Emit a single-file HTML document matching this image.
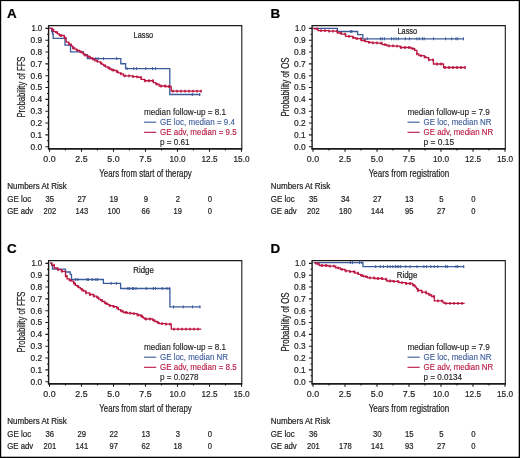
<!DOCTYPE html>
<html><head><meta charset="utf-8"><title>Kaplan-Meier curves</title>
<style>html,body{margin:0;padding:0;background:#fff;} svg{display:block;will-change:transform;filter:blur(0.3px);}</style>
</head><body>
<svg width="520" height="458" viewBox="0 0 520 458" font-family='"Liberation Sans", sans-serif'>
<rect x="0" y="0" width="520" height="458" fill="#fff"/>
<g transform="translate(0,0)">
<text x="7" y="17.9" font-size="13.4" text-anchor="start" fill="#000" font-weight="bold" stroke="#000" stroke-width="0.2">A</text>
<path d="M48.6 25.6 H241.8 V148.8" fill="none" stroke="#1a1a1a" stroke-width="1.1"/>
<path d="M48.6 25.1 V148.8" fill="none" stroke="#1a1a1a" stroke-width="1.4"/>
<path d="M47.9 148.8 H242.35" fill="none" stroke="#1a1a1a" stroke-width="1.7"/>
<path d="M45.4 146.7H48.6 M47 140.78H48.6 M45.4 134.87H48.6 M47 128.95H48.6 M45.4 123.04H48.6 M47 117.12H48.6 M45.4 111.21H48.6 M47 105.29H48.6 M45.4 99.38H48.6 M47 93.47H48.6 M45.4 87.55H48.6 M47 81.63H48.6 M45.4 75.72H48.6 M47 69.8H48.6 M45.4 63.89H48.6 M47 57.97H48.6 M45.4 52.06H48.6 M47 46.14H48.6 M45.4 40.23H48.6 M47 34.31H48.6 M45.4 28.4H48.6 M49.5 148.8V151.8 M65.5 148.8V150.4 M81.5 148.8V151.8 M97.5 148.8V150.4 M113.5 148.8V151.8 M129.5 148.8V150.4 M145.5 148.8V151.8 M161.5 148.8V150.4 M177.5 148.8V151.8 M193.5 148.8V150.4 M209.5 148.8V151.8 M225.5 148.8V150.4 M241.5 148.8V151.8" stroke="#1a1a1a" stroke-width="1.1" fill="none"/>
<text x="42.2" y="149.5" font-size="8.9" text-anchor="end" fill="#231f20" font-weight="normal" textLength="11.6" lengthAdjust="spacingAndGlyphs" stroke="#231f20" stroke-width="0.22">0.0</text>
<text x="42.2" y="137.67" font-size="8.9" text-anchor="end" fill="#231f20" font-weight="normal" textLength="11.6" lengthAdjust="spacingAndGlyphs" stroke="#231f20" stroke-width="0.22">0.1</text>
<text x="42.2" y="125.84" font-size="8.9" text-anchor="end" fill="#231f20" font-weight="normal" textLength="11.6" lengthAdjust="spacingAndGlyphs" stroke="#231f20" stroke-width="0.22">0.2</text>
<text x="42.2" y="114.01" font-size="8.9" text-anchor="end" fill="#231f20" font-weight="normal" textLength="11.6" lengthAdjust="spacingAndGlyphs" stroke="#231f20" stroke-width="0.22">0.3</text>
<text x="42.2" y="102.18" font-size="8.9" text-anchor="end" fill="#231f20" font-weight="normal" textLength="11.6" lengthAdjust="spacingAndGlyphs" stroke="#231f20" stroke-width="0.22">0.4</text>
<text x="42.2" y="90.35" font-size="8.9" text-anchor="end" fill="#231f20" font-weight="normal" textLength="11.6" lengthAdjust="spacingAndGlyphs" stroke="#231f20" stroke-width="0.22">0.5</text>
<text x="42.2" y="78.52" font-size="8.9" text-anchor="end" fill="#231f20" font-weight="normal" textLength="11.6" lengthAdjust="spacingAndGlyphs" stroke="#231f20" stroke-width="0.22">0.6</text>
<text x="42.2" y="66.69" font-size="8.9" text-anchor="end" fill="#231f20" font-weight="normal" textLength="11.6" lengthAdjust="spacingAndGlyphs" stroke="#231f20" stroke-width="0.22">0.7</text>
<text x="42.2" y="54.86" font-size="8.9" text-anchor="end" fill="#231f20" font-weight="normal" textLength="11.6" lengthAdjust="spacingAndGlyphs" stroke="#231f20" stroke-width="0.22">0.8</text>
<text x="42.2" y="43.03" font-size="8.9" text-anchor="end" fill="#231f20" font-weight="normal" textLength="11.6" lengthAdjust="spacingAndGlyphs" stroke="#231f20" stroke-width="0.22">0.9</text>
<text x="42.2" y="31.2" font-size="8.9" text-anchor="end" fill="#231f20" font-weight="normal" textLength="10.8" lengthAdjust="spacingAndGlyphs" stroke="#231f20" stroke-width="0.22">1.0</text>
<text transform="translate(25.1,87.0) rotate(-90)" x="0" y="0" font-size="10.3" text-anchor="middle" fill="#231f20" stroke="#231f20" stroke-width="0.25" textLength="61" lengthAdjust="spacingAndGlyphs">Probability of FFS</text>
<text x="49.5" y="162.4" font-size="9.1" text-anchor="middle" fill="#231f20" font-weight="normal" textLength="12.3" lengthAdjust="spacingAndGlyphs" stroke="#231f20" stroke-width="0.22">0.0</text>
<text x="81.5" y="162.4" font-size="9.1" text-anchor="middle" fill="#231f20" font-weight="normal" textLength="12.3" lengthAdjust="spacingAndGlyphs" stroke="#231f20" stroke-width="0.22">2.5</text>
<text x="113.5" y="162.4" font-size="9.1" text-anchor="middle" fill="#231f20" font-weight="normal" textLength="12.3" lengthAdjust="spacingAndGlyphs" stroke="#231f20" stroke-width="0.22">5.0</text>
<text x="145.5" y="162.4" font-size="9.1" text-anchor="middle" fill="#231f20" font-weight="normal" textLength="12.3" lengthAdjust="spacingAndGlyphs" stroke="#231f20" stroke-width="0.22">7.5</text>
<text x="177.5" y="162.4" font-size="9.1" text-anchor="middle" fill="#231f20" font-weight="normal" textLength="16" lengthAdjust="spacingAndGlyphs" stroke="#231f20" stroke-width="0.22">10.0</text>
<text x="209.5" y="162.4" font-size="9.1" text-anchor="middle" fill="#231f20" font-weight="normal" textLength="16" lengthAdjust="spacingAndGlyphs" stroke="#231f20" stroke-width="0.22">12.5</text>
<text x="241.5" y="162.4" font-size="9.1" text-anchor="middle" fill="#231f20" font-weight="normal" textLength="16" lengthAdjust="spacingAndGlyphs" stroke="#231f20" stroke-width="0.22">15.0</text>
<text x="145.5" y="176.6" font-size="10.8" text-anchor="middle" fill="#231f20" font-weight="normal" textLength="92.5" lengthAdjust="spacingAndGlyphs" stroke="#231f20" stroke-width="0.22">Years from start of therapy</text>
<text x="133.6" y="37.8" font-size="8.6" text-anchor="start" fill="#231f20" font-weight="normal" textLength="19.6" lengthAdjust="spacingAndGlyphs" stroke="#231f20" stroke-width="0.22">Lasso</text>
<text x="144" y="115" font-size="8.8" text-anchor="start" fill="#231f20" font-weight="normal" textLength="82" lengthAdjust="spacingAndGlyphs" stroke="#231f20" stroke-width="0.15">median follow-up = 8.1</text>
<path d="M144 122.2H156.2" stroke="#3b5b9a" stroke-width="1.1"/>
<text x="160" y="125.1" font-size="8.8" text-anchor="start" fill="#3b5b9a" font-weight="normal" textLength="75" lengthAdjust="spacingAndGlyphs" stroke="#3b5b9a" stroke-width="0.12">GE loc, median = 9.4</text>
<path d="M144 132.3H156.2" stroke="#ba1440" stroke-width="1.1"/>
<text x="160" y="135.2" font-size="8.8" text-anchor="start" fill="#ba1440" font-weight="normal" textLength="76.6" lengthAdjust="spacingAndGlyphs" stroke="#ba1440" stroke-width="0.12">GE adv, median = 9.5</text>
<text x="160" y="145.2" font-size="8.8" text-anchor="start" fill="#231f20" font-weight="normal" textLength="29.6" lengthAdjust="spacingAndGlyphs" stroke="#231f20" stroke-width="0.15">p = 0.61</text>
<text x="7.3" y="189.4" font-size="8.7" text-anchor="start" fill="#231f20" font-weight="normal" textLength="59.5" lengthAdjust="spacingAndGlyphs" stroke="#231f20" stroke-width="0.22">Numbers At Risk</text>
<text x="7.3" y="201.9" font-size="8.7" text-anchor="start" fill="#231f20" font-weight="normal" textLength="23.9" lengthAdjust="spacingAndGlyphs" stroke="#231f20" stroke-width="0.22">GE loc</text>
<text x="7.3" y="214" font-size="8.7" text-anchor="start" fill="#231f20" font-weight="normal" textLength="25.9" lengthAdjust="spacingAndGlyphs" stroke="#231f20" stroke-width="0.22">GE adv</text>
<text x="49.8" y="201.9" font-size="8.7" text-anchor="middle" fill="#231f20" font-weight="normal" textLength="8.6" lengthAdjust="spacingAndGlyphs" stroke="#231f20" stroke-width="0.22">35</text>
<text x="81.8" y="201.9" font-size="8.7" text-anchor="middle" fill="#231f20" font-weight="normal" textLength="8.6" lengthAdjust="spacingAndGlyphs" stroke="#231f20" stroke-width="0.22">27</text>
<text x="113.8" y="201.9" font-size="8.7" text-anchor="middle" fill="#231f20" font-weight="normal" textLength="8.6" lengthAdjust="spacingAndGlyphs" stroke="#231f20" stroke-width="0.22">19</text>
<text x="145.8" y="201.9" font-size="8.7" text-anchor="middle" fill="#231f20" font-weight="normal" textLength="4.3" lengthAdjust="spacingAndGlyphs" stroke="#231f20" stroke-width="0.22">9</text>
<text x="177.8" y="201.9" font-size="8.7" text-anchor="middle" fill="#231f20" font-weight="normal" textLength="4.3" lengthAdjust="spacingAndGlyphs" stroke="#231f20" stroke-width="0.22">2</text>
<text x="209.8" y="201.9" font-size="8.7" text-anchor="middle" fill="#231f20" font-weight="normal" textLength="4.3" lengthAdjust="spacingAndGlyphs" stroke="#231f20" stroke-width="0.22">0</text>
<text x="49.8" y="214" font-size="8.7" text-anchor="middle" fill="#231f20" font-weight="normal" textLength="12.6" lengthAdjust="spacingAndGlyphs" stroke="#231f20" stroke-width="0.22">202</text>
<text x="81.8" y="214" font-size="8.7" text-anchor="middle" fill="#231f20" font-weight="normal" textLength="12.6" lengthAdjust="spacingAndGlyphs" stroke="#231f20" stroke-width="0.22">143</text>
<text x="113.8" y="214" font-size="8.7" text-anchor="middle" fill="#231f20" font-weight="normal" textLength="12.6" lengthAdjust="spacingAndGlyphs" stroke="#231f20" stroke-width="0.22">100</text>
<text x="145.8" y="214" font-size="8.7" text-anchor="middle" fill="#231f20" font-weight="normal" textLength="8.4" lengthAdjust="spacingAndGlyphs" stroke="#231f20" stroke-width="0.22">66</text>
<text x="177.8" y="214" font-size="8.7" text-anchor="middle" fill="#231f20" font-weight="normal" textLength="8.4" lengthAdjust="spacingAndGlyphs" stroke="#231f20" stroke-width="0.22">19</text>
<text x="209.8" y="214" font-size="8.7" text-anchor="middle" fill="#231f20" font-weight="normal" textLength="4.2" lengthAdjust="spacingAndGlyphs" stroke="#231f20" stroke-width="0.22">0</text>
</g>
<g transform="translate(263.5,0)">
<text x="7" y="17.9" font-size="13.4" text-anchor="start" fill="#000" font-weight="bold" stroke="#000" stroke-width="0.2">B</text>
<path d="M48.6 25.6 H241.8 V148.8" fill="none" stroke="#1a1a1a" stroke-width="1.1"/>
<path d="M48.6 25.1 V148.8" fill="none" stroke="#1a1a1a" stroke-width="1.4"/>
<path d="M47.9 148.8 H242.35" fill="none" stroke="#1a1a1a" stroke-width="1.7"/>
<path d="M45.4 146.7H48.6 M47 140.78H48.6 M45.4 134.87H48.6 M47 128.95H48.6 M45.4 123.04H48.6 M47 117.12H48.6 M45.4 111.21H48.6 M47 105.29H48.6 M45.4 99.38H48.6 M47 93.47H48.6 M45.4 87.55H48.6 M47 81.63H48.6 M45.4 75.72H48.6 M47 69.8H48.6 M45.4 63.89H48.6 M47 57.97H48.6 M45.4 52.06H48.6 M47 46.14H48.6 M45.4 40.23H48.6 M47 34.31H48.6 M45.4 28.4H48.6 M49.5 148.8V151.8 M65.5 148.8V150.4 M81.5 148.8V151.8 M97.5 148.8V150.4 M113.5 148.8V151.8 M129.5 148.8V150.4 M145.5 148.8V151.8 M161.5 148.8V150.4 M177.5 148.8V151.8 M193.5 148.8V150.4 M209.5 148.8V151.8 M225.5 148.8V150.4 M241.5 148.8V151.8" stroke="#1a1a1a" stroke-width="1.1" fill="none"/>
<text x="42.2" y="149.5" font-size="8.9" text-anchor="end" fill="#231f20" font-weight="normal" textLength="11.6" lengthAdjust="spacingAndGlyphs" stroke="#231f20" stroke-width="0.22">0.0</text>
<text x="42.2" y="137.67" font-size="8.9" text-anchor="end" fill="#231f20" font-weight="normal" textLength="11.6" lengthAdjust="spacingAndGlyphs" stroke="#231f20" stroke-width="0.22">0.1</text>
<text x="42.2" y="125.84" font-size="8.9" text-anchor="end" fill="#231f20" font-weight="normal" textLength="11.6" lengthAdjust="spacingAndGlyphs" stroke="#231f20" stroke-width="0.22">0.2</text>
<text x="42.2" y="114.01" font-size="8.9" text-anchor="end" fill="#231f20" font-weight="normal" textLength="11.6" lengthAdjust="spacingAndGlyphs" stroke="#231f20" stroke-width="0.22">0.3</text>
<text x="42.2" y="102.18" font-size="8.9" text-anchor="end" fill="#231f20" font-weight="normal" textLength="11.6" lengthAdjust="spacingAndGlyphs" stroke="#231f20" stroke-width="0.22">0.4</text>
<text x="42.2" y="90.35" font-size="8.9" text-anchor="end" fill="#231f20" font-weight="normal" textLength="11.6" lengthAdjust="spacingAndGlyphs" stroke="#231f20" stroke-width="0.22">0.5</text>
<text x="42.2" y="78.52" font-size="8.9" text-anchor="end" fill="#231f20" font-weight="normal" textLength="11.6" lengthAdjust="spacingAndGlyphs" stroke="#231f20" stroke-width="0.22">0.6</text>
<text x="42.2" y="66.69" font-size="8.9" text-anchor="end" fill="#231f20" font-weight="normal" textLength="11.6" lengthAdjust="spacingAndGlyphs" stroke="#231f20" stroke-width="0.22">0.7</text>
<text x="42.2" y="54.86" font-size="8.9" text-anchor="end" fill="#231f20" font-weight="normal" textLength="11.6" lengthAdjust="spacingAndGlyphs" stroke="#231f20" stroke-width="0.22">0.8</text>
<text x="42.2" y="43.03" font-size="8.9" text-anchor="end" fill="#231f20" font-weight="normal" textLength="11.6" lengthAdjust="spacingAndGlyphs" stroke="#231f20" stroke-width="0.22">0.9</text>
<text x="42.2" y="31.2" font-size="8.9" text-anchor="end" fill="#231f20" font-weight="normal" textLength="10.8" lengthAdjust="spacingAndGlyphs" stroke="#231f20" stroke-width="0.22">1.0</text>
<text transform="translate(25.1,87.0) rotate(-90)" x="0" y="0" font-size="10.3" text-anchor="middle" fill="#231f20" stroke="#231f20" stroke-width="0.25" textLength="59" lengthAdjust="spacingAndGlyphs">Probability of OS</text>
<text x="49.5" y="162.4" font-size="9.1" text-anchor="middle" fill="#231f20" font-weight="normal" textLength="12.3" lengthAdjust="spacingAndGlyphs" stroke="#231f20" stroke-width="0.22">0.0</text>
<text x="81.5" y="162.4" font-size="9.1" text-anchor="middle" fill="#231f20" font-weight="normal" textLength="12.3" lengthAdjust="spacingAndGlyphs" stroke="#231f20" stroke-width="0.22">2.5</text>
<text x="113.5" y="162.4" font-size="9.1" text-anchor="middle" fill="#231f20" font-weight="normal" textLength="12.3" lengthAdjust="spacingAndGlyphs" stroke="#231f20" stroke-width="0.22">5.0</text>
<text x="145.5" y="162.4" font-size="9.1" text-anchor="middle" fill="#231f20" font-weight="normal" textLength="12.3" lengthAdjust="spacingAndGlyphs" stroke="#231f20" stroke-width="0.22">7.5</text>
<text x="177.5" y="162.4" font-size="9.1" text-anchor="middle" fill="#231f20" font-weight="normal" textLength="16" lengthAdjust="spacingAndGlyphs" stroke="#231f20" stroke-width="0.22">10.0</text>
<text x="209.5" y="162.4" font-size="9.1" text-anchor="middle" fill="#231f20" font-weight="normal" textLength="16" lengthAdjust="spacingAndGlyphs" stroke="#231f20" stroke-width="0.22">12.5</text>
<text x="241.5" y="162.4" font-size="9.1" text-anchor="middle" fill="#231f20" font-weight="normal" textLength="16" lengthAdjust="spacingAndGlyphs" stroke="#231f20" stroke-width="0.22">15.0</text>
<text x="145.5" y="176.6" font-size="10.8" text-anchor="middle" fill="#231f20" font-weight="normal" textLength="80.5" lengthAdjust="spacingAndGlyphs" stroke="#231f20" stroke-width="0.22">Years from registration</text>
<text x="134" y="33.9" font-size="8.6" text-anchor="start" fill="#231f20" font-weight="normal" textLength="19.6" lengthAdjust="spacingAndGlyphs" stroke="#231f20" stroke-width="0.22">Lasso</text>
<text x="144" y="115" font-size="8.8" text-anchor="start" fill="#231f20" font-weight="normal" textLength="82.3" lengthAdjust="spacingAndGlyphs" stroke="#231f20" stroke-width="0.15">median follow-up = 7.9</text>
<path d="M144 122.2H156.2" stroke="#3b5b9a" stroke-width="1.1"/>
<text x="160" y="125.1" font-size="8.8" text-anchor="start" fill="#3b5b9a" font-weight="normal" textLength="68" lengthAdjust="spacingAndGlyphs" stroke="#3b5b9a" stroke-width="0.12">GE loc, median NR</text>
<path d="M144 132.3H156.2" stroke="#ba1440" stroke-width="1.1"/>
<text x="160" y="135.2" font-size="8.8" text-anchor="start" fill="#ba1440" font-weight="normal" textLength="69.8" lengthAdjust="spacingAndGlyphs" stroke="#ba1440" stroke-width="0.12">GE adv, median NR</text>
<text x="160" y="145.2" font-size="8.8" text-anchor="start" fill="#231f20" font-weight="normal" textLength="30.6" lengthAdjust="spacingAndGlyphs" stroke="#231f20" stroke-width="0.15">p = 0.15</text>
<text x="7.3" y="189.4" font-size="8.7" text-anchor="start" fill="#231f20" font-weight="normal" textLength="59.5" lengthAdjust="spacingAndGlyphs" stroke="#231f20" stroke-width="0.22">Numbers At Risk</text>
<text x="7.3" y="201.9" font-size="8.7" text-anchor="start" fill="#231f20" font-weight="normal" textLength="23.9" lengthAdjust="spacingAndGlyphs" stroke="#231f20" stroke-width="0.22">GE loc</text>
<text x="7.3" y="214" font-size="8.7" text-anchor="start" fill="#231f20" font-weight="normal" textLength="25.9" lengthAdjust="spacingAndGlyphs" stroke="#231f20" stroke-width="0.22">GE adv</text>
<text x="49.8" y="201.9" font-size="8.7" text-anchor="middle" fill="#231f20" font-weight="normal" textLength="8.6" lengthAdjust="spacingAndGlyphs" stroke="#231f20" stroke-width="0.22">35</text>
<text x="81.8" y="201.9" font-size="8.7" text-anchor="middle" fill="#231f20" font-weight="normal" textLength="8.6" lengthAdjust="spacingAndGlyphs" stroke="#231f20" stroke-width="0.22">34</text>
<text x="113.8" y="201.9" font-size="8.7" text-anchor="middle" fill="#231f20" font-weight="normal" textLength="8.6" lengthAdjust="spacingAndGlyphs" stroke="#231f20" stroke-width="0.22">27</text>
<text x="145.8" y="201.9" font-size="8.7" text-anchor="middle" fill="#231f20" font-weight="normal" textLength="8.6" lengthAdjust="spacingAndGlyphs" stroke="#231f20" stroke-width="0.22">13</text>
<text x="177.8" y="201.9" font-size="8.7" text-anchor="middle" fill="#231f20" font-weight="normal" textLength="4.3" lengthAdjust="spacingAndGlyphs" stroke="#231f20" stroke-width="0.22">5</text>
<text x="209.8" y="201.9" font-size="8.7" text-anchor="middle" fill="#231f20" font-weight="normal" textLength="4.3" lengthAdjust="spacingAndGlyphs" stroke="#231f20" stroke-width="0.22">0</text>
<text x="49.8" y="214" font-size="8.7" text-anchor="middle" fill="#231f20" font-weight="normal" textLength="12.6" lengthAdjust="spacingAndGlyphs" stroke="#231f20" stroke-width="0.22">202</text>
<text x="81.8" y="214" font-size="8.7" text-anchor="middle" fill="#231f20" font-weight="normal" textLength="12.6" lengthAdjust="spacingAndGlyphs" stroke="#231f20" stroke-width="0.22">180</text>
<text x="113.8" y="214" font-size="8.7" text-anchor="middle" fill="#231f20" font-weight="normal" textLength="12.6" lengthAdjust="spacingAndGlyphs" stroke="#231f20" stroke-width="0.22">144</text>
<text x="145.8" y="214" font-size="8.7" text-anchor="middle" fill="#231f20" font-weight="normal" textLength="8.4" lengthAdjust="spacingAndGlyphs" stroke="#231f20" stroke-width="0.22">95</text>
<text x="177.8" y="214" font-size="8.7" text-anchor="middle" fill="#231f20" font-weight="normal" textLength="8.4" lengthAdjust="spacingAndGlyphs" stroke="#231f20" stroke-width="0.22">27</text>
<text x="209.8" y="214" font-size="8.7" text-anchor="middle" fill="#231f20" font-weight="normal" textLength="4.2" lengthAdjust="spacingAndGlyphs" stroke="#231f20" stroke-width="0.22">0</text>
</g>
<g transform="translate(0,235)">
<text x="7" y="17.9" font-size="13.4" text-anchor="start" fill="#000" font-weight="bold" stroke="#000" stroke-width="0.2">C</text>
<path d="M48.6 25.6 H241.8 V148.8" fill="none" stroke="#1a1a1a" stroke-width="1.1"/>
<path d="M48.6 25.1 V148.8" fill="none" stroke="#1a1a1a" stroke-width="1.4"/>
<path d="M47.9 148.8 H242.35" fill="none" stroke="#1a1a1a" stroke-width="1.7"/>
<path d="M45.4 146.7H48.6 M47 140.78H48.6 M45.4 134.87H48.6 M47 128.95H48.6 M45.4 123.04H48.6 M47 117.12H48.6 M45.4 111.21H48.6 M47 105.29H48.6 M45.4 99.38H48.6 M47 93.47H48.6 M45.4 87.55H48.6 M47 81.63H48.6 M45.4 75.72H48.6 M47 69.8H48.6 M45.4 63.89H48.6 M47 57.97H48.6 M45.4 52.06H48.6 M47 46.14H48.6 M45.4 40.23H48.6 M47 34.31H48.6 M45.4 28.4H48.6 M49.5 148.8V151.8 M65.5 148.8V150.4 M81.5 148.8V151.8 M97.5 148.8V150.4 M113.5 148.8V151.8 M129.5 148.8V150.4 M145.5 148.8V151.8 M161.5 148.8V150.4 M177.5 148.8V151.8 M193.5 148.8V150.4 M209.5 148.8V151.8 M225.5 148.8V150.4 M241.5 148.8V151.8" stroke="#1a1a1a" stroke-width="1.1" fill="none"/>
<text x="42.2" y="149.5" font-size="8.9" text-anchor="end" fill="#231f20" font-weight="normal" textLength="11.6" lengthAdjust="spacingAndGlyphs" stroke="#231f20" stroke-width="0.22">0.0</text>
<text x="42.2" y="137.67" font-size="8.9" text-anchor="end" fill="#231f20" font-weight="normal" textLength="11.6" lengthAdjust="spacingAndGlyphs" stroke="#231f20" stroke-width="0.22">0.1</text>
<text x="42.2" y="125.84" font-size="8.9" text-anchor="end" fill="#231f20" font-weight="normal" textLength="11.6" lengthAdjust="spacingAndGlyphs" stroke="#231f20" stroke-width="0.22">0.2</text>
<text x="42.2" y="114.01" font-size="8.9" text-anchor="end" fill="#231f20" font-weight="normal" textLength="11.6" lengthAdjust="spacingAndGlyphs" stroke="#231f20" stroke-width="0.22">0.3</text>
<text x="42.2" y="102.18" font-size="8.9" text-anchor="end" fill="#231f20" font-weight="normal" textLength="11.6" lengthAdjust="spacingAndGlyphs" stroke="#231f20" stroke-width="0.22">0.4</text>
<text x="42.2" y="90.35" font-size="8.9" text-anchor="end" fill="#231f20" font-weight="normal" textLength="11.6" lengthAdjust="spacingAndGlyphs" stroke="#231f20" stroke-width="0.22">0.5</text>
<text x="42.2" y="78.52" font-size="8.9" text-anchor="end" fill="#231f20" font-weight="normal" textLength="11.6" lengthAdjust="spacingAndGlyphs" stroke="#231f20" stroke-width="0.22">0.6</text>
<text x="42.2" y="66.69" font-size="8.9" text-anchor="end" fill="#231f20" font-weight="normal" textLength="11.6" lengthAdjust="spacingAndGlyphs" stroke="#231f20" stroke-width="0.22">0.7</text>
<text x="42.2" y="54.86" font-size="8.9" text-anchor="end" fill="#231f20" font-weight="normal" textLength="11.6" lengthAdjust="spacingAndGlyphs" stroke="#231f20" stroke-width="0.22">0.8</text>
<text x="42.2" y="43.03" font-size="8.9" text-anchor="end" fill="#231f20" font-weight="normal" textLength="11.6" lengthAdjust="spacingAndGlyphs" stroke="#231f20" stroke-width="0.22">0.9</text>
<text x="42.2" y="31.2" font-size="8.9" text-anchor="end" fill="#231f20" font-weight="normal" textLength="10.8" lengthAdjust="spacingAndGlyphs" stroke="#231f20" stroke-width="0.22">1.0</text>
<text transform="translate(25.1,87.0) rotate(-90)" x="0" y="0" font-size="10.3" text-anchor="middle" fill="#231f20" stroke="#231f20" stroke-width="0.25" textLength="61" lengthAdjust="spacingAndGlyphs">Probability of FFS</text>
<text x="49.5" y="162.4" font-size="9.1" text-anchor="middle" fill="#231f20" font-weight="normal" textLength="12.3" lengthAdjust="spacingAndGlyphs" stroke="#231f20" stroke-width="0.22">0.0</text>
<text x="81.5" y="162.4" font-size="9.1" text-anchor="middle" fill="#231f20" font-weight="normal" textLength="12.3" lengthAdjust="spacingAndGlyphs" stroke="#231f20" stroke-width="0.22">2.5</text>
<text x="113.5" y="162.4" font-size="9.1" text-anchor="middle" fill="#231f20" font-weight="normal" textLength="12.3" lengthAdjust="spacingAndGlyphs" stroke="#231f20" stroke-width="0.22">5.0</text>
<text x="145.5" y="162.4" font-size="9.1" text-anchor="middle" fill="#231f20" font-weight="normal" textLength="12.3" lengthAdjust="spacingAndGlyphs" stroke="#231f20" stroke-width="0.22">7.5</text>
<text x="177.5" y="162.4" font-size="9.1" text-anchor="middle" fill="#231f20" font-weight="normal" textLength="16" lengthAdjust="spacingAndGlyphs" stroke="#231f20" stroke-width="0.22">10.0</text>
<text x="209.5" y="162.4" font-size="9.1" text-anchor="middle" fill="#231f20" font-weight="normal" textLength="16" lengthAdjust="spacingAndGlyphs" stroke="#231f20" stroke-width="0.22">12.5</text>
<text x="241.5" y="162.4" font-size="9.1" text-anchor="middle" fill="#231f20" font-weight="normal" textLength="16" lengthAdjust="spacingAndGlyphs" stroke="#231f20" stroke-width="0.22">15.0</text>
<text x="145.5" y="176.6" font-size="10.8" text-anchor="middle" fill="#231f20" font-weight="normal" textLength="92.5" lengthAdjust="spacingAndGlyphs" stroke="#231f20" stroke-width="0.22">Years from start of therapy</text>
<text x="133.3" y="37.9" font-size="8.6" text-anchor="start" fill="#231f20" font-weight="normal" textLength="20.6" lengthAdjust="spacingAndGlyphs" stroke="#231f20" stroke-width="0.22">Ridge</text>
<text x="144" y="115" font-size="8.8" text-anchor="start" fill="#231f20" font-weight="normal" textLength="82" lengthAdjust="spacingAndGlyphs" stroke="#231f20" stroke-width="0.15">median follow-up = 8.1</text>
<path d="M144 122.2H156.2" stroke="#3b5b9a" stroke-width="1.1"/>
<text x="160" y="125.1" font-size="8.8" text-anchor="start" fill="#3b5b9a" font-weight="normal" textLength="68" lengthAdjust="spacingAndGlyphs" stroke="#3b5b9a" stroke-width="0.12">GE loc, median NR</text>
<path d="M144 132.3H156.2" stroke="#ba1440" stroke-width="1.1"/>
<text x="160" y="135.2" font-size="8.8" text-anchor="start" fill="#ba1440" font-weight="normal" textLength="76.6" lengthAdjust="spacingAndGlyphs" stroke="#ba1440" stroke-width="0.12">GE adv, median = 8.5</text>
<text x="160" y="145.2" font-size="8.8" text-anchor="start" fill="#231f20" font-weight="normal" textLength="38.5" lengthAdjust="spacingAndGlyphs" stroke="#231f20" stroke-width="0.15">p = 0.0278</text>
<text x="7.3" y="189.4" font-size="8.7" text-anchor="start" fill="#231f20" font-weight="normal" textLength="59.5" lengthAdjust="spacingAndGlyphs" stroke="#231f20" stroke-width="0.22">Numbers At Risk</text>
<text x="7.3" y="201.9" font-size="8.7" text-anchor="start" fill="#231f20" font-weight="normal" textLength="23.9" lengthAdjust="spacingAndGlyphs" stroke="#231f20" stroke-width="0.22">GE loc</text>
<text x="7.3" y="214" font-size="8.7" text-anchor="start" fill="#231f20" font-weight="normal" textLength="25.9" lengthAdjust="spacingAndGlyphs" stroke="#231f20" stroke-width="0.22">GE adv</text>
<text x="49.8" y="201.9" font-size="8.7" text-anchor="middle" fill="#231f20" font-weight="normal" textLength="8.6" lengthAdjust="spacingAndGlyphs" stroke="#231f20" stroke-width="0.22">36</text>
<text x="81.8" y="201.9" font-size="8.7" text-anchor="middle" fill="#231f20" font-weight="normal" textLength="8.6" lengthAdjust="spacingAndGlyphs" stroke="#231f20" stroke-width="0.22">29</text>
<text x="113.8" y="201.9" font-size="8.7" text-anchor="middle" fill="#231f20" font-weight="normal" textLength="8.6" lengthAdjust="spacingAndGlyphs" stroke="#231f20" stroke-width="0.22">22</text>
<text x="145.8" y="201.9" font-size="8.7" text-anchor="middle" fill="#231f20" font-weight="normal" textLength="8.6" lengthAdjust="spacingAndGlyphs" stroke="#231f20" stroke-width="0.22">13</text>
<text x="177.8" y="201.9" font-size="8.7" text-anchor="middle" fill="#231f20" font-weight="normal" textLength="4.3" lengthAdjust="spacingAndGlyphs" stroke="#231f20" stroke-width="0.22">3</text>
<text x="209.8" y="201.9" font-size="8.7" text-anchor="middle" fill="#231f20" font-weight="normal" textLength="4.3" lengthAdjust="spacingAndGlyphs" stroke="#231f20" stroke-width="0.22">0</text>
<text x="49.8" y="214" font-size="8.7" text-anchor="middle" fill="#231f20" font-weight="normal" textLength="12.6" lengthAdjust="spacingAndGlyphs" stroke="#231f20" stroke-width="0.22">201</text>
<text x="81.8" y="214" font-size="8.7" text-anchor="middle" fill="#231f20" font-weight="normal" textLength="12.6" lengthAdjust="spacingAndGlyphs" stroke="#231f20" stroke-width="0.22">141</text>
<text x="113.8" y="214" font-size="8.7" text-anchor="middle" fill="#231f20" font-weight="normal" textLength="8.4" lengthAdjust="spacingAndGlyphs" stroke="#231f20" stroke-width="0.22">97</text>
<text x="145.8" y="214" font-size="8.7" text-anchor="middle" fill="#231f20" font-weight="normal" textLength="8.4" lengthAdjust="spacingAndGlyphs" stroke="#231f20" stroke-width="0.22">62</text>
<text x="177.8" y="214" font-size="8.7" text-anchor="middle" fill="#231f20" font-weight="normal" textLength="8.4" lengthAdjust="spacingAndGlyphs" stroke="#231f20" stroke-width="0.22">18</text>
<text x="209.8" y="214" font-size="8.7" text-anchor="middle" fill="#231f20" font-weight="normal" textLength="4.2" lengthAdjust="spacingAndGlyphs" stroke="#231f20" stroke-width="0.22">0</text>
</g>
<g transform="translate(263.5,235)">
<text x="7" y="17.9" font-size="13.4" text-anchor="start" fill="#000" font-weight="bold" stroke="#000" stroke-width="0.2">D</text>
<path d="M48.6 25.6 H241.8 V148.8" fill="none" stroke="#1a1a1a" stroke-width="1.1"/>
<path d="M48.6 25.1 V148.8" fill="none" stroke="#1a1a1a" stroke-width="1.4"/>
<path d="M47.9 148.8 H242.35" fill="none" stroke="#1a1a1a" stroke-width="1.7"/>
<path d="M45.4 146.7H48.6 M47 140.78H48.6 M45.4 134.87H48.6 M47 128.95H48.6 M45.4 123.04H48.6 M47 117.12H48.6 M45.4 111.21H48.6 M47 105.29H48.6 M45.4 99.38H48.6 M47 93.47H48.6 M45.4 87.55H48.6 M47 81.63H48.6 M45.4 75.72H48.6 M47 69.8H48.6 M45.4 63.89H48.6 M47 57.97H48.6 M45.4 52.06H48.6 M47 46.14H48.6 M45.4 40.23H48.6 M47 34.31H48.6 M45.4 28.4H48.6 M49.5 148.8V151.8 M65.5 148.8V150.4 M81.5 148.8V151.8 M97.5 148.8V150.4 M113.5 148.8V151.8 M129.5 148.8V150.4 M145.5 148.8V151.8 M161.5 148.8V150.4 M177.5 148.8V151.8 M193.5 148.8V150.4 M209.5 148.8V151.8 M225.5 148.8V150.4 M241.5 148.8V151.8" stroke="#1a1a1a" stroke-width="1.1" fill="none"/>
<text x="42.2" y="149.5" font-size="8.9" text-anchor="end" fill="#231f20" font-weight="normal" textLength="11.6" lengthAdjust="spacingAndGlyphs" stroke="#231f20" stroke-width="0.22">0.0</text>
<text x="42.2" y="137.67" font-size="8.9" text-anchor="end" fill="#231f20" font-weight="normal" textLength="11.6" lengthAdjust="spacingAndGlyphs" stroke="#231f20" stroke-width="0.22">0.1</text>
<text x="42.2" y="125.84" font-size="8.9" text-anchor="end" fill="#231f20" font-weight="normal" textLength="11.6" lengthAdjust="spacingAndGlyphs" stroke="#231f20" stroke-width="0.22">0.2</text>
<text x="42.2" y="114.01" font-size="8.9" text-anchor="end" fill="#231f20" font-weight="normal" textLength="11.6" lengthAdjust="spacingAndGlyphs" stroke="#231f20" stroke-width="0.22">0.3</text>
<text x="42.2" y="102.18" font-size="8.9" text-anchor="end" fill="#231f20" font-weight="normal" textLength="11.6" lengthAdjust="spacingAndGlyphs" stroke="#231f20" stroke-width="0.22">0.4</text>
<text x="42.2" y="90.35" font-size="8.9" text-anchor="end" fill="#231f20" font-weight="normal" textLength="11.6" lengthAdjust="spacingAndGlyphs" stroke="#231f20" stroke-width="0.22">0.5</text>
<text x="42.2" y="78.52" font-size="8.9" text-anchor="end" fill="#231f20" font-weight="normal" textLength="11.6" lengthAdjust="spacingAndGlyphs" stroke="#231f20" stroke-width="0.22">0.6</text>
<text x="42.2" y="66.69" font-size="8.9" text-anchor="end" fill="#231f20" font-weight="normal" textLength="11.6" lengthAdjust="spacingAndGlyphs" stroke="#231f20" stroke-width="0.22">0.7</text>
<text x="42.2" y="54.86" font-size="8.9" text-anchor="end" fill="#231f20" font-weight="normal" textLength="11.6" lengthAdjust="spacingAndGlyphs" stroke="#231f20" stroke-width="0.22">0.8</text>
<text x="42.2" y="43.03" font-size="8.9" text-anchor="end" fill="#231f20" font-weight="normal" textLength="11.6" lengthAdjust="spacingAndGlyphs" stroke="#231f20" stroke-width="0.22">0.9</text>
<text x="42.2" y="31.2" font-size="8.9" text-anchor="end" fill="#231f20" font-weight="normal" textLength="10.8" lengthAdjust="spacingAndGlyphs" stroke="#231f20" stroke-width="0.22">1.0</text>
<text transform="translate(25.1,87.0) rotate(-90)" x="0" y="0" font-size="10.3" text-anchor="middle" fill="#231f20" stroke="#231f20" stroke-width="0.25" textLength="59" lengthAdjust="spacingAndGlyphs">Probability of OS</text>
<text x="49.5" y="162.4" font-size="9.1" text-anchor="middle" fill="#231f20" font-weight="normal" textLength="12.3" lengthAdjust="spacingAndGlyphs" stroke="#231f20" stroke-width="0.22">0.0</text>
<text x="81.5" y="162.4" font-size="9.1" text-anchor="middle" fill="#231f20" font-weight="normal" textLength="12.3" lengthAdjust="spacingAndGlyphs" stroke="#231f20" stroke-width="0.22">2.5</text>
<text x="113.5" y="162.4" font-size="9.1" text-anchor="middle" fill="#231f20" font-weight="normal" textLength="12.3" lengthAdjust="spacingAndGlyphs" stroke="#231f20" stroke-width="0.22">5.0</text>
<text x="145.5" y="162.4" font-size="9.1" text-anchor="middle" fill="#231f20" font-weight="normal" textLength="12.3" lengthAdjust="spacingAndGlyphs" stroke="#231f20" stroke-width="0.22">7.5</text>
<text x="177.5" y="162.4" font-size="9.1" text-anchor="middle" fill="#231f20" font-weight="normal" textLength="16" lengthAdjust="spacingAndGlyphs" stroke="#231f20" stroke-width="0.22">10.0</text>
<text x="209.5" y="162.4" font-size="9.1" text-anchor="middle" fill="#231f20" font-weight="normal" textLength="16" lengthAdjust="spacingAndGlyphs" stroke="#231f20" stroke-width="0.22">12.5</text>
<text x="241.5" y="162.4" font-size="9.1" text-anchor="middle" fill="#231f20" font-weight="normal" textLength="16" lengthAdjust="spacingAndGlyphs" stroke="#231f20" stroke-width="0.22">15.0</text>
<text x="145.5" y="176.6" font-size="10.8" text-anchor="middle" fill="#231f20" font-weight="normal" textLength="80.5" lengthAdjust="spacingAndGlyphs" stroke="#231f20" stroke-width="0.22">Years from registration</text>
<text x="133.2" y="42.5" font-size="8.6" text-anchor="start" fill="#231f20" font-weight="normal" textLength="20.6" lengthAdjust="spacingAndGlyphs" stroke="#231f20" stroke-width="0.22">Ridge</text>
<text x="144" y="115" font-size="8.8" text-anchor="start" fill="#231f20" font-weight="normal" textLength="82.3" lengthAdjust="spacingAndGlyphs" stroke="#231f20" stroke-width="0.15">median follow-up = 7.9</text>
<path d="M144 122.2H156.2" stroke="#3b5b9a" stroke-width="1.1"/>
<text x="160" y="125.1" font-size="8.8" text-anchor="start" fill="#3b5b9a" font-weight="normal" textLength="68" lengthAdjust="spacingAndGlyphs" stroke="#3b5b9a" stroke-width="0.12">GE loc, median NR</text>
<path d="M144 132.3H156.2" stroke="#ba1440" stroke-width="1.1"/>
<text x="160" y="135.2" font-size="8.8" text-anchor="start" fill="#ba1440" font-weight="normal" textLength="69.8" lengthAdjust="spacingAndGlyphs" stroke="#ba1440" stroke-width="0.12">GE adv, median NR</text>
<text x="160" y="145.2" font-size="8.8" text-anchor="start" fill="#231f20" font-weight="normal" textLength="38.5" lengthAdjust="spacingAndGlyphs" stroke="#231f20" stroke-width="0.15">p = 0.0134</text>
<text x="7.3" y="189.4" font-size="8.7" text-anchor="start" fill="#231f20" font-weight="normal" textLength="59.5" lengthAdjust="spacingAndGlyphs" stroke="#231f20" stroke-width="0.22">Numbers At Risk</text>
<text x="7.3" y="201.9" font-size="8.7" text-anchor="start" fill="#231f20" font-weight="normal" textLength="23.9" lengthAdjust="spacingAndGlyphs" stroke="#231f20" stroke-width="0.22">GE loc</text>
<text x="7.3" y="214" font-size="8.7" text-anchor="start" fill="#231f20" font-weight="normal" textLength="25.9" lengthAdjust="spacingAndGlyphs" stroke="#231f20" stroke-width="0.22">GE adv</text>
<text x="49.8" y="201.9" font-size="8.7" text-anchor="middle" fill="#231f20" font-weight="normal" textLength="8.6" lengthAdjust="spacingAndGlyphs" stroke="#231f20" stroke-width="0.22">36</text>
<text x="113.8" y="201.9" font-size="8.7" text-anchor="middle" fill="#231f20" font-weight="normal" textLength="8.6" lengthAdjust="spacingAndGlyphs" stroke="#231f20" stroke-width="0.22">30</text>
<text x="145.8" y="201.9" font-size="8.7" text-anchor="middle" fill="#231f20" font-weight="normal" textLength="8.6" lengthAdjust="spacingAndGlyphs" stroke="#231f20" stroke-width="0.22">15</text>
<text x="177.8" y="201.9" font-size="8.7" text-anchor="middle" fill="#231f20" font-weight="normal" textLength="4.3" lengthAdjust="spacingAndGlyphs" stroke="#231f20" stroke-width="0.22">5</text>
<text x="209.8" y="201.9" font-size="8.7" text-anchor="middle" fill="#231f20" font-weight="normal" textLength="4.3" lengthAdjust="spacingAndGlyphs" stroke="#231f20" stroke-width="0.22">0</text>
<text x="49.8" y="214" font-size="8.7" text-anchor="middle" fill="#231f20" font-weight="normal" textLength="12.6" lengthAdjust="spacingAndGlyphs" stroke="#231f20" stroke-width="0.22">201</text>
<text x="81.8" y="214" font-size="8.7" text-anchor="middle" fill="#231f20" font-weight="normal" textLength="12.6" lengthAdjust="spacingAndGlyphs" stroke="#231f20" stroke-width="0.22">178</text>
<text x="113.8" y="214" font-size="8.7" text-anchor="middle" fill="#231f20" font-weight="normal" textLength="12.6" lengthAdjust="spacingAndGlyphs" stroke="#231f20" stroke-width="0.22">141</text>
<text x="145.8" y="214" font-size="8.7" text-anchor="middle" fill="#231f20" font-weight="normal" textLength="8.4" lengthAdjust="spacingAndGlyphs" stroke="#231f20" stroke-width="0.22">93</text>
<text x="177.8" y="214" font-size="8.7" text-anchor="middle" fill="#231f20" font-weight="normal" textLength="8.4" lengthAdjust="spacingAndGlyphs" stroke="#231f20" stroke-width="0.22">27</text>
<text x="209.8" y="214" font-size="8.7" text-anchor="middle" fill="#231f20" font-weight="normal" textLength="4.2" lengthAdjust="spacingAndGlyphs" stroke="#231f20" stroke-width="0.22">0</text>
</g>
<path d="M49.3 28.4 H51.7V31.5 H52.5V34 H53.2V38.3 H65V45.1 H70.5V51.8 H83.5V54.7 H87.3V58.6 H120.8V63.75 H125.6V68.6 H169.8V94.5 H200.5V94.5" fill="none" stroke="#3b5b9a" stroke-width="1.3" stroke-linejoin="miter"/>
<path d="M95.8 57.1V60.1 M98.2 57.1V60.1 M103.5 57.1V60.1 M116.7 57.1V60.1 M127 67.1V70.1 M133.75 67.1V70.1 M136.6 67.1V70.1 M145.8 67.1V70.1 M152.5 67.1V70.1 M155.4 67.1V70.1 M192.3 93V96 M199.6 93V96" stroke="#3b5b9a" stroke-width="1.0" fill="none"/>
<path d="M49.3 28.4 H51.25 H52.09V30 H53.76V31.6 H54.6 H55.55V32.4 H56.5 H57.48V33.95 H59.42V35.5 H60.4 H63.3 H64.25V37.9 H65.2 H66.15V42.2 H67.1 H68.8V44.1 H70.5 H71.33V46.05 H72.97V48 H73.8 H74.78V49.2 H76.72V50.4 H77.7 H79.6V51.8 H81.5 H82.15V52.93 H83.45V54.07 H84.75V55.2 H85.4 H87.3V56.6 H89.2 H90.1V58 H91 H92.4V59 H93.8 H94.8V60.9 H95.8 H97.7V61.8 H99.6 H100.4V63.1 H102V64.4 H103.6V65.7 H104.4 H105.6V66.85 H108V68 H109.2 H109.92V69 H111.38V70 H112.1 H114.05V70.5 H116 H116.7V71.7 H118.1V72.9 H118.8 H120.75V73.8 H122.7 H123.4V75.8 H124.1 H130.4 H132.8V76.7 H135.2 H136.6V76.9 H138 H138.95V77.4 H139.9 H141.1V79.3 H142.3 H144.5V80.75 H146.7 H152.4 H153.35V82.7 H154.3 H155.75V84.1 H157.2 H159.15V86 H161.1 H165.9V86.5 H170.7 H171.2V91.1 H171.7 H201.5" fill="none" stroke="#ba1440" stroke-width="1.3" stroke-linejoin="miter"/>
<path d="M53 28.6V31.4 M57 31V33.8 M61 34.1V36.9 M65 36.5V39.3 M69 42.7V45.5 M73 46.6V49.4 M77 49V51.8 M81 50.4V53.2 M85 53.8V56.6 M89 55.2V58 M93 57.6V60.4 M97 59.5V62.3 M101 61.7V64.5 M105 64.3V67.1 M109 66.6V69.4 M113 68.6V71.4 M117 70.3V73.1 M121 72.4V75.2 M125 74.4V77.2 M129 74.4V77.2 M133 75.3V78.1 M137 75.5V78.3 M141 76V78.8 M145 79.35V82.15 M149 79.35V82.15 M153 79.35V82.15 M157 82.7V85.5 M161 84.6V87.4 M165 84.6V87.4 M169 85.1V87.9 M173 89.7V92.5 M177 89.7V92.5 M181 89.7V92.5 M185 89.7V92.5 M189 89.7V92.5 M193 89.7V92.5 M197 89.7V92.5 M201 89.7V92.5" stroke="#ba1440" stroke-width="1.4" fill="none"/>
<path d="M313.2 28.4 H337.4V31.5 H357.6V34.7 H362.8V38.8 H464V38.8" fill="none" stroke="#3b5b9a" stroke-width="1.3" stroke-linejoin="miter"/>
<path d="M350.7 30V33 M351.8 30V33 M367.3 37.3V40.3 M380.6 37.3V40.3 M382.3 37.3V40.3 M384.6 37.3V40.3 M391.5 37.3V40.3 M393.8 37.3V40.3 M396.2 37.3V40.3 M398.5 37.3V40.3 M405.4 37.3V40.3 M409.4 37.3V40.3 M416.9 37.3V40.3 M419.2 37.3V40.3 M422.5 37.3V40.3 M424.2 37.3V40.3 M433.5 37.3V40.3 M445.6 37.3V40.3 M451.7 37.3V40.3 M456 37.3V40.3 M457.7 37.3V40.3 M463.5 37.3V40.3" stroke="#3b5b9a" stroke-width="1.0" fill="none"/>
<path d="M313.2 28.4 H314.35V28.9 H315.5 H318.1V30.7 H320.7 H328.75V31.2 H336.8 H337.4V33 H338 H341.45V34.1 H344.9 H345.8V36.4 H346.7 H351.8 H352.98V37.55 H355.32V38.7 H356.5 H359.9 H361.05V40.5 H362.2 H365.1V41.6 H368 H368.8V42.3 H369.6 H371.9V42.9 H374.2 H377.1V43.2 H380 H382.3V44.6 H384.6 H386.9V45.8 H389.2 H393.85V46.1 H398.5 H400.2V47.5 H401.9 H408.8 H411.15V48.65 H413.5 H414.65V50.4 H415.8 H416.9V53.8 H418 H418.9V55.6 H419.8 H423.1 H424.25V57.1 H425.4 H426.55V57.7 H427.7 H428.55V59.8 H429.4 H432.3 H433.45V64 H434.6 H442.7 H443.55V67.5 H444.4 H465.2" fill="none" stroke="#ba1440" stroke-width="1.3" stroke-linejoin="miter"/>
<path d="M317 27.5V30.3 M321 29.3V32.1 M325 29.3V32.1 M329 29.8V32.6 M333 29.8V32.6 M337 29.8V32.6 M341 31.6V34.4 M345 32.7V35.5 M349 35V37.8 M353 36.15V38.95 M357 37.3V40.1 M361 37.3V40.1 M365 39.1V41.9 M369 40.9V43.7 M373 41.5V44.3 M377 41.5V44.3 M381 41.8V44.6 M385 43.2V46 M389 44.4V47.2 M393 44.4V47.2 M397 44.7V47.5 M401 46.1V48.9 M405 46.1V48.9 M409 46.1V48.9 M413 47.25V50.05 M417 52.4V55.2 M421 54.2V57 M425 55.7V58.5 M429 58.4V61.2 M433 58.4V61.2 M437 62.6V65.4 M441 62.6V65.4 M445 66.1V68.9 M449 66.1V68.9 M453 66.1V68.9 M457 66.1V68.9 M461 66.1V68.9 M465 66.1V68.9" stroke="#ba1440" stroke-width="1.4" fill="none"/>
<path d="M50.2 263.2 H51.9V265.65 H52.5V269.1 H65.5V272 H70.2V274.3 H71.5V279.5 H103.4V283.4 H120.6V288.5 H169.9V306.9 H200.6V306.9" fill="none" stroke="#3b5b9a" stroke-width="1.3" stroke-linejoin="miter"/>
<path d="M75.6 278V281 M77.9 278V281 M87.1 278V281 M88.3 278V281 M92.3 278V281 M95.8 278V281 M97.5 278V281 M111.2 281.9V284.9 M116.3 281.9V284.9 M127.9 287V290 M129.6 287V290 M132.5 287V290 M133.7 287V290 M136 287V290 M146.3 287V290 M153.3 287V290 M155.5 287V290 M162.2 287V290 M166.9 287V290 M169.3 287V290 M173.6 305.4V308.4 M183.3 305.4V308.4 M192.5 305.4V308.4 M199.9 305.4V308.4" stroke="#3b5b9a" stroke-width="1.0" fill="none"/>
<path d="M50.2 263.2 H51.65V265.1 H53.1 H54.25V268 H55.4 H57.7V269.7 H60 H61.45V271.4 H62.9 H64.6 H65.45V276 H66.3 H67.15V278.9 H68 H69.17V280.05 H71.53V281.2 H72.7 H73.58V283.25 H75.33V285.3 H76.2 H77.05V286.45 H78.75V287.6 H79.6 H80.37V288.73 H81.9V289.87 H83.43V291 H84.2 H85.95V292.8 H87.7 H89.45V294.5 H91.2 H93.5V296.2 H95.8 H96.75V297.7 H98.65V299.2 H99.6 H100.47V300.35 H102.22V301.5 H103.1 H104.8V303.3 H106.5 H107.38V304.45 H109.12V305.6 H110 H112.9V306.7 H115.8 H116.65V308.15 H118.35V309.6 H119.2 H120.65V311.05 H123.55V312.5 H125 H127.3V313.1 H129.6 H131.9V313.7 H134.2 H137.1V315 H140 H140.68V316 H142.02V317 H142.7 H143.38V318 H144.72V319 H145.4 H152.1 H152.8V320.4 H153.5 H154.85V321.5 H156.2 H157.2V322.6 H159.2V323.7 H160.2 H165.6V324.1 H171 H171.3V329.1 H171.6 H201.2" fill="none" stroke="#ba1440" stroke-width="1.3" stroke-linejoin="miter"/>
<path d="M54 263.7V266.5 M58 268.3V271.1 M62 270V272.8 M66 274.6V277.4 M70 278.65V281.45 M74 281.85V284.65 M78 285.05V287.85 M82 288.47V291.27 M86 291.4V294.2 M90 293.1V295.9 M94 294.8V297.6 M98 296.3V299.1 M102 298.95V301.75 M106 301.9V304.7 M110 304.2V307 M114 305.3V308.1 M118 306.75V309.55 M122 309.65V312.45 M126 311.1V313.9 M130 311.7V314.5 M134 312.3V315.1 M138 313.6V316.4 M142 314.6V317.4 M146 317.6V320.4 M150 317.6V320.4 M154 319V321.8 M158 321.2V324 M162 322.3V325.1 M166 322.7V325.5 M170 322.7V325.5 M174 327.7V330.5 M178 327.7V330.5 M182 327.7V330.5 M186 327.7V330.5 M190 327.7V330.5 M194 327.7V330.5 M198 327.7V330.5" stroke="#ba1440" stroke-width="1.4" fill="none"/>
<path d="M313.5 262.6 H363V266.6 H464.2V266.6" fill="none" stroke="#3b5b9a" stroke-width="1.3" stroke-linejoin="miter"/>
<path d="M350.3 261.1V264.1 M352.6 261.1V264.1 M359.5 261.1V264.1 M361.8 261.1V264.1 M375.7 265.1V268.1 M380.3 265.1V268.1 M383.4 265.1V268.1 M387.6 265.1V268.1 M390.2 265.1V268.1 M392.8 265.1V268.1 M395.4 265.1V268.1 M397.1 265.1V268.1 M398.8 265.1V268.1 M400.6 265.1V268.1 M405.8 265.1V268.1 M410.1 265.1V268.1 M417 265.1V268.1 M423.9 265.1V268.1 M426.5 265.1V268.1 M430.8 265.1V268.1 M434.3 265.1V268.1 M437.8 265.1V268.1 M445.6 265.1V268.1 M447.3 265.1V268.1 M456 265.1V268.1 M457.7 265.1V268.1 M463.7 265.1V268.1" stroke="#3b5b9a" stroke-width="1.0" fill="none"/>
<path d="M314.2 262.6 H315.7V263.9 H317.2 H319.5V265.5 H321.8 H328V266.2 H334.2 H335.7V267.8 H337.2 H340.3V269.3 H343.4 H344.95V270.8 H346.5 H349.55V271.6 H352.6 H354.9V273.2 H357.2 H358.35V274.35 H360.65V275.5 H361.8 H363.73V276.65 H367.57V277.8 H369.5 H374.9V278.5 H380.3 H382.65V279.2 H385 H386.75V281 H388.5 H392.8V281.3 H397.1 H398.85V282.7 H400.6 H405.8V283.5 H411 H412.7V285.3 H414.4 H415.12V287.03 H416.55V288.77 H417.98V290.5 H418.7 H421.75V292.2 H424.8 H426.1V293.5 H428.7V294.8 H430 H431.7V296.5 H433.4 H434.3V300.8 H435.2 H442.1 H442.75V302.1 H444.05V303.4 H444.7 H464.6" fill="none" stroke="#ba1440" stroke-width="1.3" stroke-linejoin="miter"/>
<path d="M318 262.5V265.3 M322 264.1V266.9 M326 264.1V266.9 M330 264.8V267.6 M334 264.8V267.6 M338 266.4V269.2 M342 267.9V270.7 M346 269.4V272.2 M350 270.2V273 M354 270.2V273 M358 271.8V274.6 M362 274.1V276.9 M366 275.25V278.05 M370 276.4V279.2 M374 276.4V279.2 M378 277.1V279.9 M382 277.1V279.9 M386 277.8V280.6 M390 279.6V282.4 M394 279.9V282.7 M398 279.9V282.7 M402 281.3V284.1 M406 282.1V284.9 M410 282.1V284.9 M414 283.9V286.7 M418 289.1V291.9 M422 290.8V293.6 M426 290.8V293.6 M430 293.4V296.2 M434 295.1V297.9 M438 299.4V302.2 M442 299.4V302.2 M446 302V304.8 M450 302V304.8 M454 302V304.8 M458 302V304.8 M462 302V304.8" stroke="#ba1440" stroke-width="1.4" fill="none"/>
<rect x="0" y="0" width="520" height="1.1" fill="#000"/>
<rect x="0" y="0" width="1.2" height="458" fill="#000"/>
<rect x="518.7" y="0" width="1.3" height="458" fill="#000"/>
<rect x="0" y="456.7" width="520" height="1.3" fill="#000"/>
</svg>
</body></html>
